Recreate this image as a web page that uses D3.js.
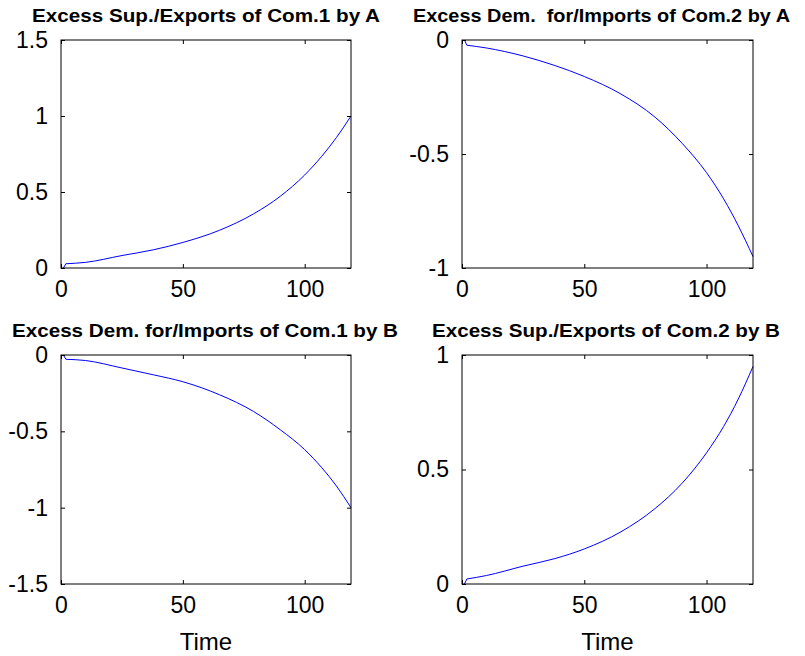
<!DOCTYPE html>
<html>
<head>
<meta charset="utf-8">
<script src="https://cdn.jsdelivr.net/npm/d3@7"></script>
<style>
  body { margin: 0; background: #fff; }
  svg { display: block; font-family: "Liberation Sans", Arial, Helvetica, sans-serif; }
</style>
</head>
<body>
<svg id="fig" width="805" height="656"></svg>
<script>
// Sampled time steps shared by all four series
const time = [1, 2, 10, 25, 38, 50, 65, 79, 90, 100, 107, 113, 119];

// Trade flows for the two countries and two commodities
const exportsCom1A = [0, 0.028, 0.037, 0.082, 0.12, 0.168, 0.248, 0.356, 0.472, 0.612, 0.735, 0.858, 1.0];
const importsCom2A = [0, -0.023, -0.035, -0.07, -0.112, -0.16, -0.237, -0.339, -0.453, -0.582, -0.697, -0.815, -0.95];
const importsCom1B = [0, -0.028, -0.036, -0.085, -0.13, -0.175, -0.26, -0.37, -0.49, -0.62, -0.738, -0.858, -1.0];
const exportsCom2B = [0, 0.022, 0.037, 0.078, 0.111, 0.153, 0.228, 0.33, 0.44, 0.573, 0.688, 0.808, 0.95];

const titles = [
  "Excess Sup./Exports of Com.1 by A",
  "Excess Dem.  for/Imports of Com.2 by A",
  "Excess Dem. for/Imports of Com.1 by B",
  "Excess Sup./Exports of Com.2 by B"
];
const xTicks = [0, 50, 100];
const yTicksTL = [0, 0.5, 1, 1.5];
const yTicksTR = [-1, -0.5, 0];
const yTicksBL = [-1.5, -1, -0.5, 0];
const yTicksBR = [0, 0.5, 1];
const xLabel = "Time";

const panels = [
  { title: titles[0], values: exportsCom1A, yDomain: [0, 1.5], yTicks: yTicksTL,
    box: { x0: 61, x1: 351, y0: 40, y1: 268 }, titleX: 206, titleW: 348, xlabel: false },
  { title: titles[1], values: importsCom2A, yDomain: [-1, 0], yTicks: yTicksTR,
    box: { x0: 462, x1: 753, y0: 40, y1: 268 }, titleX: 601.5, titleW: 377, xlabel: false },
  { title: titles[2], values: importsCom1B, yDomain: [-1.5, 0], yTicks: yTicksBL,
    box: { x0: 61, x1: 351, y0: 355, y1: 584 }, titleX: 205, titleW: 386, xlabel: true },
  { title: titles[3], values: exportsCom2B, yDomain: [0, 1], yTicks: yTicksBR,
    box: { x0: 462, x1: 753, y0: 355, y1: 584 }, titleX: 606, titleW: 348, xlabel: true }
];

const svg = d3.select("#fig");
const fmt = d => String(d);
const tickLen = 4;

panels.forEach(p => {
  const b = p.box;
  const x = d3.scaleLinear().domain([0, 119]).range([b.x0, b.x1]);
  const y = d3.scaleLinear().domain(p.yDomain).range([b.y1, b.y0]);
  const g = svg.append("g");

  // data line: straight step out of the origin, smooth thereafter
  const pts = p.values.map((v, i) => [x(time[i]), y(v)]);
  const smooth = d3.line().curve(d3.curveMonotoneX);
  g.append("path")
    .attr("d", "M" + pts[0].join(",") + "L" + smooth(pts.slice(1)).slice(1))
    .attr("fill", "none")
    .attr("stroke", "#0000ff")
    .attr("stroke-width", 1);

  // axes: ticks point inward, mirrored on top and right
  const axes = [
    { ax: d3.axisBottom(x).tickValues(xTicks).tickFormat(fmt), t: `translate(0,${b.y1})` },
    { ax: d3.axisTop(x).tickValues(xTicks).tickFormat(""), t: `translate(0,${b.y0})` },
    { ax: d3.axisLeft(y).tickValues(p.yTicks).tickFormat(fmt), t: `translate(${b.x0},0)` },
    { ax: d3.axisRight(y).tickValues(p.yTicks).tickFormat(""), t: `translate(${b.x1},0)` }
  ];
  axes.forEach((a, k) => {
    a.ax.tickSizeInner(-tickLen).tickSizeOuter(0).tickPadding(k === 0 ? 13 : 9 + tickLen);
    const ag = g.append("g").attr("transform", a.t).call(a.ax);
    ag.select(".domain").remove();
    ag.selectAll(".tick line").attr("stroke", "#000").attr("stroke-width", 1);
    ag.selectAll(".tick text")
      .attr("fill", "#000")
      .style("font-size", "23px")
      .style("font-family", "'Liberation Sans', Arial, sans-serif");
  });

  // frame
  g.append("rect")
    .attr("x", b.x0).attr("y", b.y0)
    .attr("width", b.x1 - b.x0).attr("height", b.y1 - b.y0)
    .attr("fill", "none").attr("stroke", "#000").attr("stroke-width", 1);

  // title
  g.append("text")
    .attr("x", p.titleX)
    .attr("y", b.y0 - 18)
    .attr("text-anchor", "middle")
    .attr("xml:space", "preserve")
    .style("white-space", "pre")
    .style("font-size", "18px")
    .style("font-weight", "bold")
    .attr("textLength", p.titleW)
    .attr("lengthAdjust", "spacingAndGlyphs")
    .text(p.title);

  if (p.xlabel) {
    g.append("text")
      .attr("x", (b.x0 + b.x1) / 2)
      .attr("y", b.y1 + 66)
      .attr("text-anchor", "middle")
      .style("font-size", "24px")
      .text(xLabel);
  }
});
</script>
</body>
</html>
